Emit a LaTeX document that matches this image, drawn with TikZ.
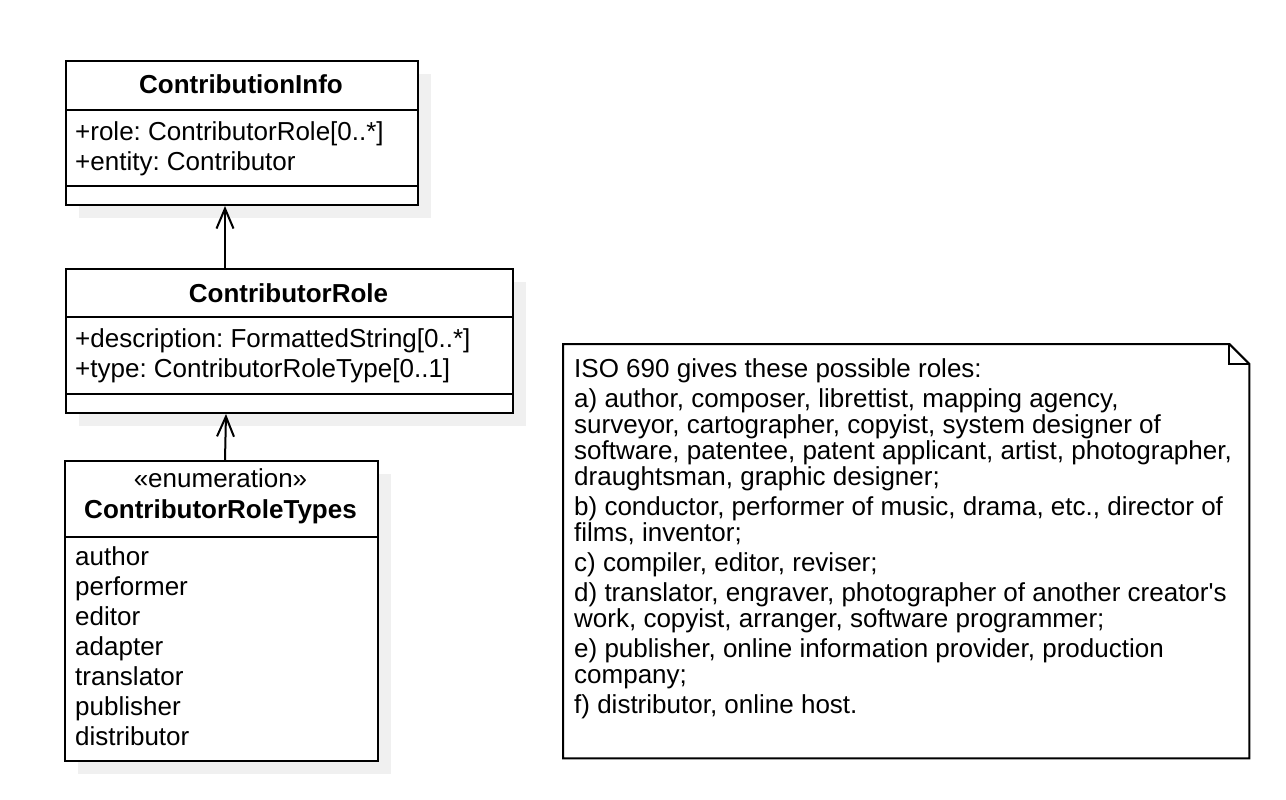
\documentclass[tikz,border=0pt]{standalone}
\usepackage{fontspec}
\setmainfont{Liberation Sans}
\usetikzlibrary{arrows.meta}
\begin{document}
\frenchspacing
\begin{tikzpicture}[x=1pt,y=-1pt,
  classbox/.style={draw=black, line width=2pt, fill=white, inner sep=0pt, anchor=north west},
  shadowbox/.style={fill=black!6, draw=none, inner sep=0pt, anchor=north west},
  txt/.style={inner sep=0pt, anchor=base west, font=\fontsize{26}{30}\selectfont\frenchspacing},
  ttl/.style={inner sep=0pt, anchor=base, font=\fontsize{26}{30}\selectfont\bfseries},
  stereo/.style={inner sep=0pt, anchor=base, font=\fontsize{26}{30}\selectfont},
  sepline/.style={line width=2pt},
  assoc/.style={line width=2pt, -{Straight Barb[length=20pt, width=17pt]}},
  notebox/.style={line width=2pt, draw=black, fill=white}]
\useasboundingbox (0,0) rectangle (1286,800);
% shadows
\node[shadowbox, minimum width=352pt, minimum height=144pt] (cish) at (79,74) {};
\node[shadowbox, minimum width=447pt, minimum height=144pt] (crsh) at (79,282) {};
\node[shadowbox, minimum width=313pt, minimum height=300pt] (ensh) at (78,474) {};
% ContributionInfo
\node[classbox, minimum width=352pt, minimum height=144pt] (ci) at (65,60) {};
\draw[sepline] ([yshift=-50pt]ci.north west) -- ([yshift=-50pt]ci.north east);
\draw[sepline] ([yshift=-126pt]ci.north west) -- ([yshift=-126pt]ci.north east);
\node[ttl] (cit) at (241,94) {ContributionInfo};
\node[txt] (cia1) at (75,140) {+role: ContributorRole[0..*]};
\node[txt] (cia2) at (75,170) {+entity: Contributor};
% ContributorRole
\node[classbox, minimum width=447pt, minimum height=144pt] (cr) at (65,268) {};
\draw[sepline] ([yshift=-49pt]cr.north west) -- ([yshift=-49pt]cr.north east);
\draw[sepline] ([yshift=-126pt]cr.north west) -- ([yshift=-126pt]cr.north east);
\node[ttl] (crt) at (288.5,302) {ContributorRole};
\node[txt] (cra1) at (75,347) {+description: FormattedString[0..*]};
\node[txt] (cra2) at (75,377) {+type: ContributorRoleType[0..1]};
% ContributorRoleTypes
\node[classbox, minimum width=313pt, minimum height=300pt] (en) at (64,460) {};
\draw[sepline] ([yshift=-77pt]en.north west) -- ([yshift=-77pt]en.north east);
\node[stereo] (ens) at (220.5,487) {«enumeration»};
\node[ttl] (ent) at (220.5,518) {ContributorRoleTypes};
\node[txt] (en1) at (75,565) {author};
\node[txt] (en2) at (75,595) {performer};
\node[txt] (en3) at (75,625) {editor};
\node[txt] (en4) at (75,655) {adapter};
\node[txt] (en5) at (75,685) {translator};
\node[txt] (en6) at (75,715) {publisher};
\node[txt] (en7) at (75,745) {distributor};
% connectors
\draw[assoc] ([xshift=160pt]cr.north west) -- ([xshift=160pt]ci.south west);
\draw[assoc] ([xshift=161pt]en.north west) -- ([xshift=161pt]cr.south west);
% note
\node[inner sep=0pt, minimum width=686pt, minimum height=414pt, anchor=north west] (note) at (563,344) {};
\draw[notebox] (note.north west) -- ([xshift=-20pt]note.north east) -- ([yshift=-20pt]note.north east) -- (note.south east) -- (note.south west) -- cycle;
\draw[line width=2pt] ([xshift=-20pt]note.north east) -- ([xshift=-20pt,yshift=-20pt]note.north east) -- ([yshift=-20pt]note.north east);
\node[txt] (n1) at (574,377) {ISO 690 gives these possible roles:};
\node[txt] (n2) at (574,407) {a) author, composer, librettist, mapping agency,};
\node[txt] (n3) at (574,433) {surveyor, cartographer, copyist, system designer of};
\node[txt] (n4) at (574,459) {software, patentee, patent applicant, artist, photographer,};
\node[txt] (n5) at (574,485) {draughtsman, graphic designer;};
\node[txt] (n6) at (574,515) {b) conductor, performer of music, drama, etc., director of};
\node[txt] (n7) at (574,541) {films, inventor;};
\node[txt] (n8) at (574,571) {c) compiler, editor, reviser;};
\node[txt] (n9) at (574,601) {d) translator, engraver, photographer of another creator\textquotesingle s};
\node[txt] (n10) at (574,627) {work, copyist, arranger, software programmer;};
\node[txt] (n11) at (574,657) {e) publisher, online information provider, production};
\node[txt] (n12) at (574,683) {company;};
\node[txt] (n13) at (574,713) {f) distributor, online host.};
\end{tikzpicture}
\end{document}
